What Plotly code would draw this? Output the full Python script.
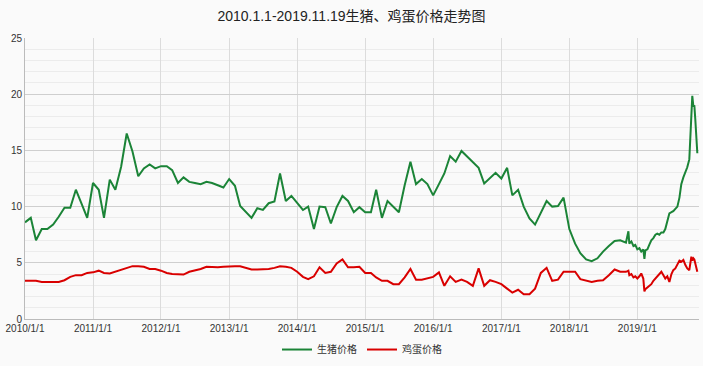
import pandas as pd
import plotly.graph_objects as go

title_text = "2010.1.1-2019.11.19生猪、鸡蛋价格走势图"
series_names = ["生猪价格", "鸡蛋价格"]

# Monthly readings, 2010-01 .. 2018-11
monthly_start = "2010-01-01"
pig_monthly = [
    8.6, 9.0, 7.0, 8.0, 8.0, 8.4, 9.1, 9.9, 9.9, 11.5, 10.25, 9.0,
    12.1, 11.5, 9.0, 12.4, 11.5, 13.55, 16.5, 14.9, 12.7, 13.4, 13.75, 13.4,
    13.6, 13.6, 13.25, 12.1, 12.6, 12.2, 12.1, 12.0, 12.2, 12.1, 11.9, 11.7,
    12.45, 11.85, 10.05, 9.55, 9.0, 9.85, 9.7, 10.3, 10.45, 12.95, 10.5, 10.95,
    10.35, 9.7, 10.0, 8.0, 10.0, 9.95, 8.5, 9.95, 10.95, 10.5, 9.5, 9.95,
    9.5, 9.5, 11.5, 9.0, 10.5, 10.0, 9.5, 11.9, 14.0, 12.0, 12.45, 12.0,
    11.0, 12.0, 12.95, 14.5, 14.0, 14.95, 14.45, 14.0, 13.45, 12.05, 12.55, 13.0,
    12.5, 13.45, 11.0, 11.5, 10.0, 8.95, 8.4, 9.4, 10.5, 10.0, 10.05, 10.8,
    8.0, 6.7, 5.85, 5.3, 5.15, 5.4, 6.0, 6.5, 6.95, 7.0, 6.8,
]
egg_monthly = [
    3.4, 3.4, 3.4, 3.3, 3.3, 3.3, 3.3, 3.45, 3.75, 3.9, 3.9, 4.1,
    4.15, 4.3, 4.1, 4.05, 4.2, 4.35, 4.5, 4.7, 4.7, 4.65, 4.45, 4.45,
    4.3, 4.1, 4.0, 3.95, 3.95, 4.2, 4.3, 4.45, 4.65, 4.6, 4.6, 4.65,
    4.7, 4.7, 4.7, 4.55, 4.4, 4.4, 4.4, 4.45, 4.55, 4.7, 4.65, 4.55,
    4.2, 3.75, 3.55, 3.8, 4.6, 4.1, 4.2, 4.95, 5.3, 4.6, 4.6, 4.65,
    4.1, 4.1, 3.7, 3.4, 3.4, 3.1, 3.1, 3.7, 4.45, 3.5, 3.5, 3.6,
    3.75, 4.15, 2.95, 3.8, 3.3, 3.5, 3.3, 2.95, 4.5, 2.95, 3.45, 3.3,
    3.1, 2.7, 2.35, 2.6, 2.2, 2.2, 2.7, 4.1, 4.55, 3.4, 3.5, 4.2,
    4.2, 4.2, 3.55, 3.4, 3.3, 3.4, 3.45, 3.9, 4.4, 4.2, 4.2,
]

# Denser readings, 2018-11 .. 2019-11-19
late_dates = [
    "2018-11-14", "2018-11-19", "2018-11-30", "2018-12-11", "2018-12-21",
    "2019-01-01", "2019-01-12", "2019-01-22", "2019-02-02", "2019-02-08",
    "2019-02-13", "2019-02-24", "2019-03-06", "2019-03-17", "2019-03-28",
    "2019-04-08", "2019-04-18", "2019-04-29", "2019-05-10", "2019-05-21",
    "2019-05-31", "2019-06-11", "2019-06-22", "2019-07-03", "2019-07-13",
    "2019-07-24", "2019-08-04", "2019-08-15", "2019-08-25", "2019-09-05",
    "2019-09-16", "2019-09-26", "2019-10-07", "2019-10-13", "2019-10-18",
    "2019-10-23", "2019-10-29", "2019-11-03", "2019-11-08", "2019-11-14",
    "2019-11-19",
]
pig_late = [
    7.8, 6.7, 6.9, 6.5, 6.6, 6.2, 6.3, 6.0, 6.2, 5.35,
    6.1, 6.2, 6.6, 7.0, 7.2, 7.5, 7.6, 7.5, 7.7, 7.7,
    8.0, 8.8, 9.4, 9.5, 9.6, 9.8, 10.0, 10.8, 12.0, 12.6,
    13.0, 13.5, 14.2, 16.0, 18.6, 19.85, 18.9, 19.0, 17.8, 16.5,
    14.75,
]
egg_late = [
    4.3, 3.9, 4.0, 3.7, 3.8, 3.6, 3.8, 4.05, 3.6, 2.45,
    2.65, 2.8, 3.0, 3.1, 3.4, 3.6, 3.8, 4.0, 4.2, 3.9,
    3.6, 3.8, 3.3, 4.0, 4.35, 4.5, 4.8, 5.2, 5.1, 5.25,
    4.8, 4.5, 4.35, 4.9, 5.55, 5.2, 5.4, 5.3, 5.0, 4.6,
    4.2,
]

monthly_dates = list(pd.date_range(monthly_start, periods=len(pig_monthly), freq="MS").strftime("%Y-%m-%d"))
x_all = monthly_dates + late_dates
pig = pig_monthly + pig_late
egg = egg_monthly + egg_late

font_family = "Liberation Sans, Arial, Noto Sans CJK SC, sans-serif"

fig = go.Figure()
fig.add_trace(go.Scatter(x=x_all, y=pig, mode="lines", name=series_names[0],
                         line=dict(color="#1b8437", width=2)))
fig.add_trace(go.Scatter(x=x_all, y=egg, mode="lines", name=series_names[1],
                         line=dict(color="#d90000", width=2)))

fig.update_layout(
    width=703, height=366,
    margin=dict(l=25, r=4, t=38, b=47, autoexpand=False),
    paper_bgcolor="#fafafa", plot_bgcolor="#fafafa",
    font=dict(family=font_family, size=10, color="#333"),
    title=dict(text=title_text, x=0.5, xanchor="center", y=0.955, yanchor="middle",
               font=dict(size=14, color="#222", family=font_family)),
    showlegend=True,
    legend=dict(orientation="h", x=0.5, xanchor="center",
                yref="container", y=0.045, yanchor="middle",
                font=dict(size=10, color="#333"), bgcolor="rgba(0,0,0,0)",
                itemwidth=30, tracegroupgap=0),
)
fig.update_xaxes(
    type="date", range=["2010-01-01", "2019-11-28"],
    tick0="2010-01-01", dtick="M12", tickformat="%Y/%-m/%-d",
    showgrid=True, gridcolor="#dcdcdc", gridwidth=1,
    showline=True, linecolor="#bbbbbb", linewidth=1,
    ticks="", tickfont=dict(size=10, color="#333"), zeroline=False,
)
fig.update_yaxes(
    range=[0, 25], dtick=5, tick0=0,
    showgrid=True, gridcolor="#cfcfcf", gridwidth=1,
    minor=dict(dtick=1, showgrid=True, gridcolor="#ececec", gridwidth=1),
    showline=True, linecolor="#bbbbbb", linewidth=1,
    ticks="", tickfont=dict(size=10, color="#333"), zeroline=False,
)

fig.write_html("out.html")
